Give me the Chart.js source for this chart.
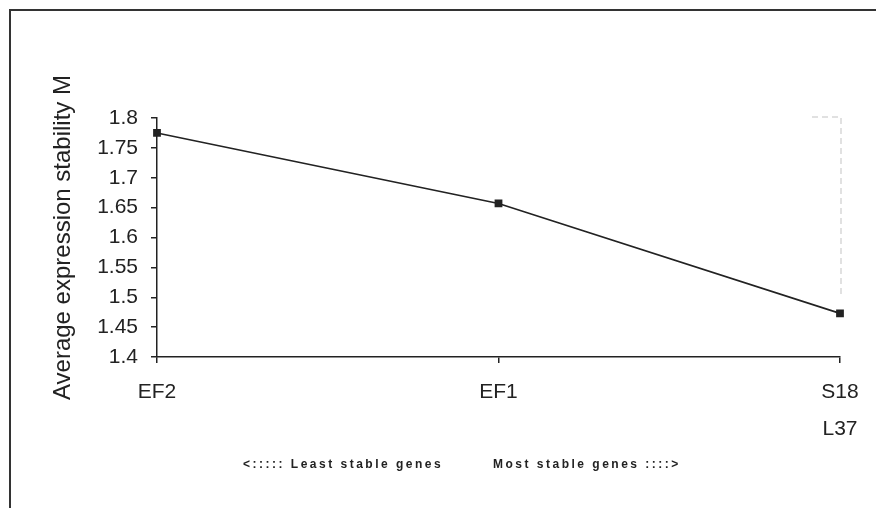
<!DOCTYPE html>
<html>
<head>
<meta charset="utf-8">
<script src="https://cdn.jsdelivr.net/npm/chart.js@4/dist/chart.umd.min.js"></script>
<style>
  html, body { margin: 0; padding: 0; background: #fff; }
  #wrap { width: 876px; height: 515px; position: relative; }
</style>
</head>
<body>
<div id="wrap"><canvas id="grafico" width="876" height="515"></canvas></div>
<script>
// datos
const genes = ['EF2', 'EF1', ['S18', 'L37']];
const estabilidadM = [1.775, 1.657, 1.473];
const ejeMin = 1.4;
const ejeMax = 1.8;
const paso = 0.05;
const textoIzq = '<::::: Least stable genes';
const textoDer = 'Most stable genes ::::>';

const colorTexto = '#222';
const colorLinea = '#222';
const fuente = '"Liberation Sans", Arial, sans-serif';

// marco y textos de abajo
const marcoPlugin = {
    id: 'marco',
    afterDraw(chart) {
        const ctx = chart.ctx;
        ctx.save();
        ctx.strokeStyle = '#333';
        ctx.lineWidth = 2;
        ctx.beginPath();
        ctx.moveTo(876, 10);
        ctx.lineTo(10, 10);
        ctx.lineTo(10, 508);
        ctx.stroke();

        // linea punteada clara a la derecha (como en el original)
        const area = chart.chartArea;
        ctx.strokeStyle = '#d8d8d8';
        ctx.lineWidth = 1.5;
        ctx.setLineDash([6, 4]);
        ctx.beginPath();
        ctx.moveTo(area.right - 28, area.top - 1);
        ctx.lineTo(area.right + 1, area.top - 1);
        ctx.lineTo(area.right + 1, area.top + 180);
        ctx.stroke();
        ctx.setLineDash([]);

        ctx.fillStyle = colorTexto;
        ctx.font = 'bold 12px ' + fuente;
        ctx.textBaseline = 'middle';
        ctx.letterSpacing = '2.5px';
        ctx.textAlign = 'left';
        ctx.fillText(textoIzq, 243, 465);
        ctx.fillText(textoDer, 493, 465);
        ctx.restore();
    }
};

const ctx = document.getElementById('grafico').getContext('2d');
new Chart(ctx, {
    type: 'line',
    data: {
        labels: genes,
        datasets: [{
            label: 'M',
            data: estabilidadM,
            borderColor: colorLinea,
            borderWidth: 1.6,
            backgroundColor: colorLinea,
            pointStyle: 'rect',
            pointRadius: 5.5,
            pointBorderWidth: 0,
            tension: 0
        }]
    },
    options: {
        responsive: false,
        animation: false,
        layout: { padding: { left: 40, right: 36, top: 118, bottom: 0 } },
        plugins: {
            legend: { display: false },
            tooltip: { enabled: false }
        },
        scales: {
            x: {
                offset: false,
                grid: {
                    drawOnChartArea: false,
                    drawTicks: true,
                    tickLength: 6,
                    color: colorLinea,
                    lineWidth: 1.5
                },
                border: { color: colorLinea, width: 1.5 },
                ticks: {
                    color: colorTexto,
                    padding: 10,
                    maxRotation: 0,
                    autoSkip: false,
                    font: { family: fuente, size: 21, lineHeight: 1.8 }
                },
                afterFit(scale) { scale.height = 158; }
            },
            y: {
                min: ejeMin,
                max: ejeMax,
                grid: {
                    drawOnChartArea: false,
                    drawTicks: true,
                    tickLength: 6,
                    color: colorLinea,
                    lineWidth: 1.5
                },
                border: { color: colorLinea, width: 1.5 },
                ticks: {
                    stepSize: paso,
                    color: colorTexto,
                    padding: 13,
                    font: { family: fuente, size: 21 },
                    callback: v => String(+v.toFixed(2))
                },
                title: {
                    display: true,
                    text: 'Average expression stability M',
                    color: colorTexto,
                    padding: { top: 9, bottom: 0 },
                    font: { family: fuente, size: 24 }
                },
                afterFit(scale) { scale.width = 117; }
            }
        }
    },
    plugins: [marcoPlugin]
});
</script>
</body>
</html>
